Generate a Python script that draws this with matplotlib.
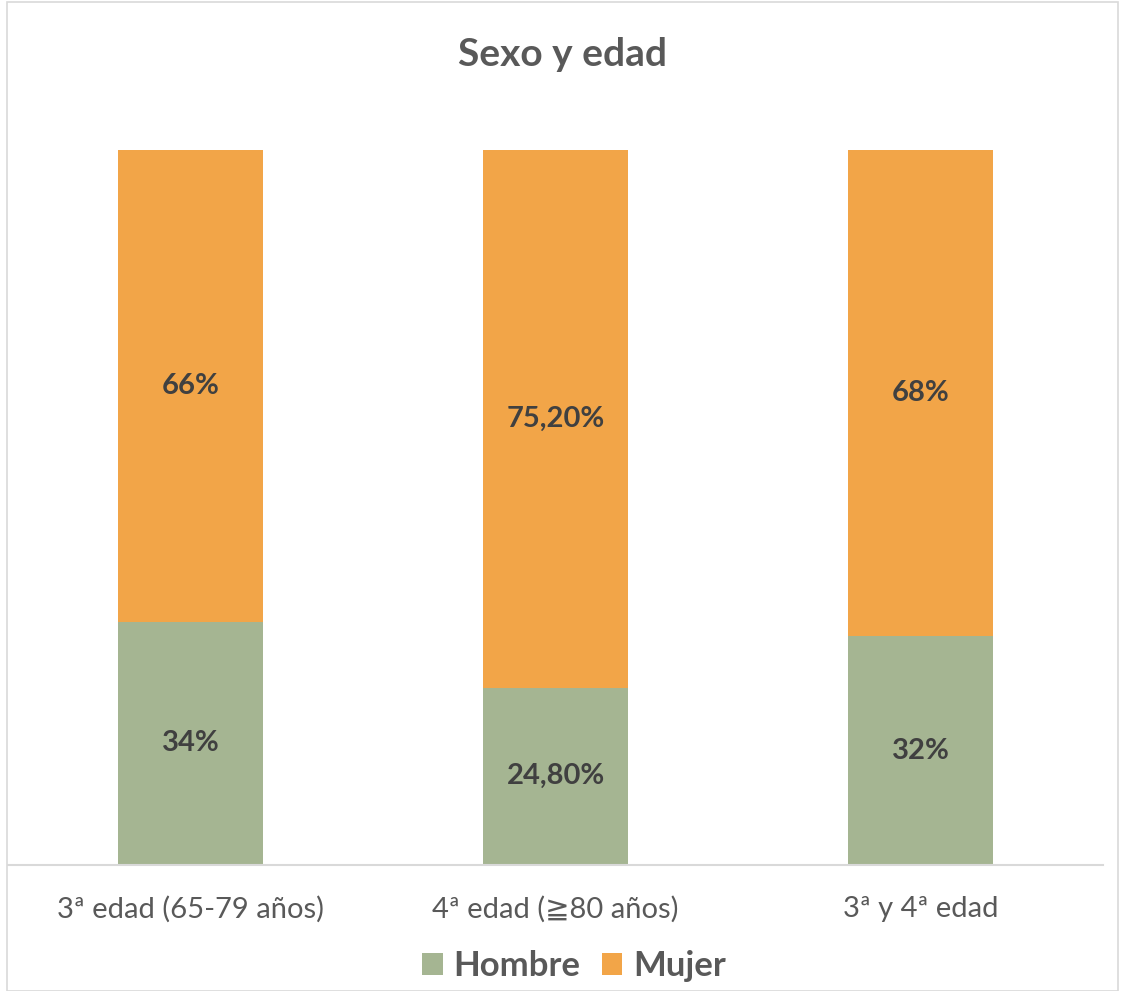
import numpy as np
import matplotlib.pyplot as plt
from matplotlib.patches import Rectangle

# datos
categorias = ['3ª edad (65-79 años)', '4ª edad (≧80 años)', '3ª y 4ª edad']
hombre = [0.34, 0.248, 0.32]
mujer = [0.66, 0.752, 0.68]
etiquetas_hombre = ['34%', '24,80%', '32%']
etiquetas_mujer = ['66%', '75,20%', '68%']
series = ['Hombre', 'Mujer']

verde = '#A5B592'
naranja = '#F2A548'
fuente = ['Lato', 'DejaVu Sans']
plt.rcParams['font.family'] = fuente

fig = plt.figure(figsize=(11.24, 9.91), dpi=100)
ax = fig.add_axes([8 / 1124, 126 / 991, 1095 / 1124, 715 / 991])

x = np.arange(len(categorias))
ancho = 0.397
b1 = ax.bar(x, hombre, ancho, color=verde, label=series[0])
b2 = ax.bar(x, mujer, ancho, bottom=hombre, color=naranja, label=series[1])

for i in range(len(x)):
    ax.text(x[i], hombre[i] / 2, etiquetas_hombre[i], ha='center', va='center',
            fontsize=21, fontweight='bold', color='#404040')
    ax.text(x[i], hombre[i] + mujer[i] / 2, etiquetas_mujer[i], ha='center', va='center',
            fontsize=21, fontweight='bold', color='#404040')

ax.set_xlim(-0.5, 2.5)
ax.set_ylim(0, 1)
ax.set_yticks([])
ax.set_xticks(x)
ax.set_xticklabels(categorias, fontsize=21, color='#595959')
ax.tick_params(axis='x', length=0, pad=22)
for s in ['top', 'right', 'left']:
    ax.spines[s].set_visible(False)
ax.spines['bottom'].set_color('#D9D9D9')
ax.spines['bottom'].set_linewidth(1.5)

fig.text(0.5, 1 - 55 / 991, 'Sexo y edad', ha='center', va='center',
         fontsize=28, fontweight='bold', color='#595959')

leg = fig.legend(handles=[b1, b2], labels=series, loc='center',
                 bbox_to_anchor=(574 / 1124, 1 - 966 / 991), ncol=2, frameon=False,
                 prop={'size': 25, 'weight': 'bold'}, handlelength=0.6, handleheight=0.6,
                 handletextpad=0.3, columnspacing=0.6)
for t in leg.get_texts():
    t.set_color('#595959')

# marco del gráfico
fig.patches.append(Rectangle((7 / 1124, 0), 1111 / 1124, 1 - 2 / 991, transform=fig.transFigure,
                             fill=False, edgecolor='#D9D9D9', linewidth=1.2))

fig.savefig('out.png', dpi=100, facecolor='white')
